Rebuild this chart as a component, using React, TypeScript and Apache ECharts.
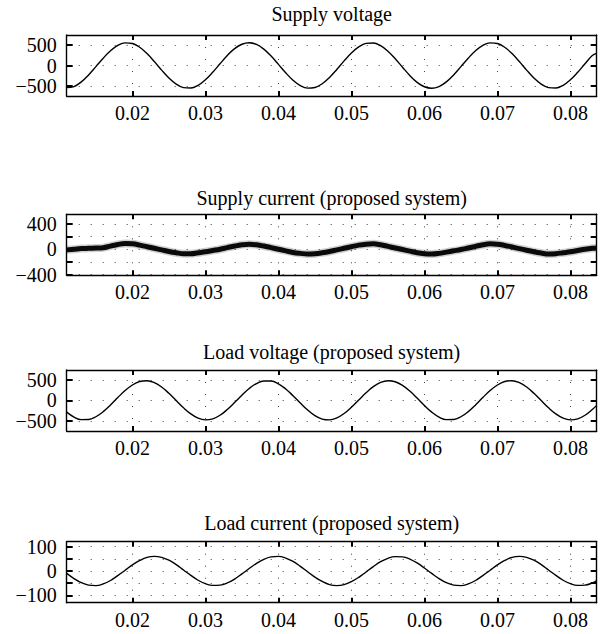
import React, { useEffect, useRef } from 'react';
import * as echarts from 'echarts';

// time samples in milliseconds
const timeMs = [
  11, 12, 13, 14, 15, 16, 17, 18, 19, 20, 21, 22, 23, 24, 25, 26, 27, 28, 29, 30,
  31, 32, 33, 34, 35, 36, 37, 38, 39, 40, 41, 42, 43, 44, 45, 46, 47, 48, 49, 50,
  51, 52, 53, 54, 55, 56, 57, 58, 59, 60, 61, 62, 63, 64, 65, 66, 67, 68, 69, 70,
  71, 72, 73, 74, 75, 76, 77, 78, 79, 80, 81, 82, 83, 83.6,
];

const supplyVoltage = [
  -545, -518, -403, -231, -27, 180, 363, 494, 557, 540, 448, 293, 97, -113, -307, -458, -544, -555, -487, -351,
  -166, 43, 246, 414, 523, 560, 518, 403, 231, 27, -180, -363, -494, -557, -540, -448, -293, -97, 113, 307,
  458, 544, 555, 487, 351, 166, -43, -246, -414, -523, -560, -518, -403, -231, -27, 180, 363, 494, 557, 540,
  448, 293, 97, -113, -307, -458, -544, -555, -487, -351, -166, 43, 246, 300,
];

const supplyCurrent = [
  -10, 0, 10, 15, 20, 25, 50, 75, 90, 85, 65, 40, 15, -10, -35, -55, -70, -70, -55, -40,
  -20, 0, 25, 50, 70, 80, 70, 50, 25, 0, -25, -50, -65, -75, -70, -55, -35, -10, 15, 40,
  65, 80, 85, 70, 45, 20, -5, -30, -55, -70, -75, -65, -45, -25, -5, 20, 45, 70, 85, 80,
  60, 35, 10, -15, -40, -60, -75, -70, -55, -40, -20, 0, 15, 20,
];

const loadVoltage = [
  -288, -409, -473, -470, -402, -277, -113, 67, 237, 374, 459, 479, 431, 324, 170, -7, -183, -333, -437, -479,
  -454, -366, -225, -54, 126, 288, 409, 473, 470, 402, 277, 113, -67, -237, -374, -459, -479, -431, -324, -170,
  7, 183, 333, 437, 479, 454, 366, 225, 54, -126, -288, -409, -473, -470, -402, -277, -113, 67, 237, 374,
  459, 479, 431, 324, 170, -7, -183, -333, -437, -479, -454, -366, -225, -124,
];

const loadCurrent = [
  -10, -31, -48, -58, -60, -53, -39, -19, 3, 25, 43, 56, 60, 56, 44, 26, 4, -18, -38, -52,
  -59, -58, -49, -33, -12, 10, 31, 48, 58, 60, 53, 39, 19, -3, -25, -43, -56, -60, -56, -44,
  -26, -4, 18, 38, 52, 59, 58, 49, 33, 12, -10, -31, -48, -58, -60, -53, -39, -19, 3, 25,
  43, 56, 60, 56, 44, 26, 4, -18, -38, -52, -59, -58, -49, -39,
];

const titles = [
  'Supply voltage',
  'Supply current (proposed system)',
  'Load voltage (proposed system)',
  'Load current (proposed system)',
];

const xMin = 0.011;
const xMax = 0.0836;
const xTicks = [0.02, 0.03, 0.04, 0.05, 0.06, 0.07, 0.08];

const yMins = [-750, -410, -750, -130];
const yMaxs = [750, 550, 740, 120];
const yTicks = [
  [-500, 0, 500],
  [-400, -200, 0, 200, 400],
  [-500, 0, 500],
  [-100, -50, 0, 50, 100],
];
const yLabels = [
  [-500, 0, 500],
  [-400, 0, 400],
  [-500, 0, 500],
  [-100, 0, 100],
];

const seriesValues = [supplyVoltage, supplyCurrent, loadVoltage, loadCurrent];

// layout
const gridLeft = 66.7;
const gridWidth = 530;
const gridHeight = 61;
const gridTops = [35, 214.3, 370, 541.7];
const titleOffsets = [21, 16, 18, 19];
const FONT = '"Liberation Serif", "Times New Roman", serif';

export default function App() {
  const ref = useRef<HTMLDivElement>(null);

  useEffect(() => {
    if (!ref.current) return;
    const chart = echarts.init(ref.current, undefined, { renderer: 'svg' });

    const grids: any[] = [];
    const xAxes: any[] = [];
    const yAxes: any[] = [];
    const series: any[] = [];
    const graphics: any[] = [];

    const axisLine = { show: true, onZero: false, lineStyle: { color: '#000', width: 1.4 } };
    const tickStyle = { color: '#000', width: 2 };
    const dotted = { color: '#444', width: 1, type: [1, 11] };

    for (let i = 0; i < 4; i++) {
      grids.push({
        left: gridLeft,
        top: gridTops[i],
        width: gridWidth,
        height: gridHeight,
        containLabel: false,
        outerBoundsMode: 'none',
      });
      xAxes.push({
        type: 'value',
        gridIndex: i,
        min: xMin,
        max: xMax,
        position: 'bottom',
        axisLine,
        axisTick: { show: true, inside: true, length: 5, lineStyle: tickStyle, customValues: xTicks },
        axisLabel: {
          show: true,
          customValues: xTicks,
          formatter: (v: number) => v.toFixed(2),
          fontFamily: FONT,
          fontSize: 20,
          lineHeight: 20,
          color: '#000',
          margin: 7,
        },
        splitLine: { show: true, lineStyle: dotted },
      });
      xAxes.push({
        type: 'value',
        gridIndex: i,
        min: xMin,
        max: xMax,
        position: 'top',
        axisLine,
        axisTick: { show: true, inside: true, length: 5, lineStyle: tickStyle, customValues: xTicks },
        axisLabel: { show: false },
        splitLine: { show: false },
      });
      yAxes.push({
        type: 'value',
        gridIndex: i,
        min: yMins[i],
        max: yMaxs[i],
        position: 'left',
        axisLine,
        axisTick: { show: true, inside: true, length: 6, lineStyle: tickStyle, customValues: yTicks[i] },
        axisLabel: {
          show: true,
          customValues: yLabels[i],
          formatter: (v: number) => String(v).replace('-', '\u2212'),
          fontFamily: FONT,
          fontSize: 20,
          color: '#000',
          margin: 10,
        },
        splitLine: { show: true, lineStyle: dotted },
      });
      yAxes.push({
        type: 'value',
        gridIndex: i,
        min: yMins[i],
        max: yMaxs[i],
        position: 'right',
        axisLine,
        axisTick: { show: true, inside: true, length: 6, lineStyle: tickStyle, customValues: yTicks[i] },
        axisLabel: { show: false },
        splitLine: { show: false },
      });

      const data = timeMs.map((t, k) => [t / 1000, seriesValues[i][k]]);
      if (i === 1) {
        series.push({
          type: 'line',
          xAxisIndex: 2 * i,
          yAxisIndex: 2 * i,
          data,
          showSymbol: false,
          smooth: 0.4,
          silent: true,
          lineStyle: { color: 'rgba(0,0,0,0.18)', width: 8 },
        });
        series.push({
          type: 'line',
          xAxisIndex: 2 * i,
          yAxisIndex: 2 * i,
          data,
          showSymbol: false,
          smooth: 0.4,
          silent: true,
          lineStyle: { color: '#0a0a0a', width: 5 },
        });
      } else {
        series.push({
          type: 'line',
          xAxisIndex: 2 * i,
          yAxisIndex: 2 * i,
          data,
          showSymbol: false,
          smooth: 0.4,
          silent: true,
          lineStyle: { color: '#000', width: 1.4 },
        });
      }

      graphics.push({
        type: 'text',
        x: gridLeft + gridWidth / 2,
        y: gridTops[i] - titleOffsets[i],
        style: {
          text: titles[i],
          fill: '#000',
          font: `20px ${FONT}`,
          align: 'center',
          verticalAlign: 'middle',
          textAlign: 'center',
          textVerticalAlign: 'middle',
        },
      });
    }

    chart.setOption({
      animation: false,
      backgroundColor: '#fff',
      grid: grids,
      xAxis: xAxes,
      yAxis: yAxes,
      series,
      graphic: graphics,
    });

    return () => chart.dispose();
  }, []);

  return (
    <div
      ref={ref}
      style={{ position: 'absolute', left: 0, top: 0, width: 602, height: 634, background: '#fff' }}
    />
  );
}
